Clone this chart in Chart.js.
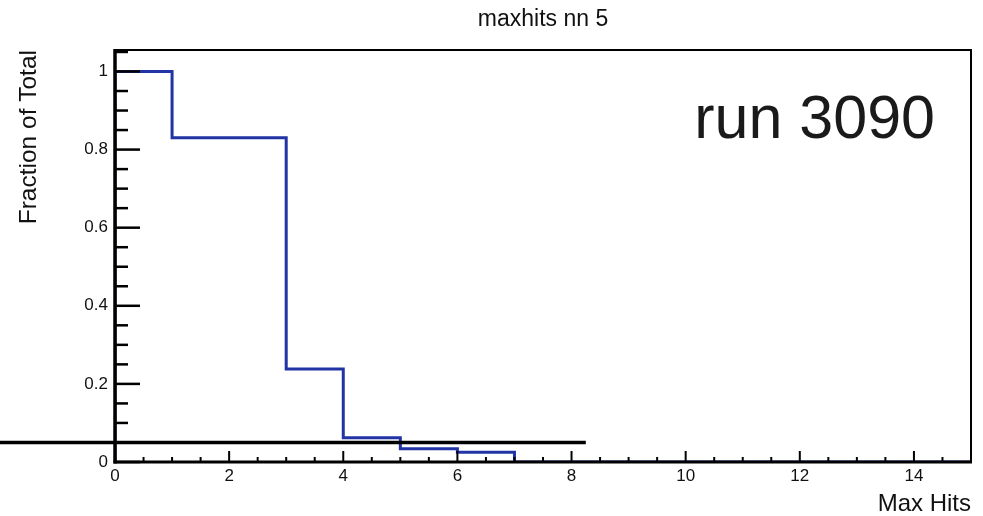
<!DOCTYPE html>
<html>
<head>
<meta charset="utf-8">
<title>maxhits nn 5</title>
<script src="https://cdn.jsdelivr.net/npm/chart.js@4/dist/chart.umd.min.js"></script>
<style>
    html, body { margin: 0; padding: 0; background: #fff; }
    #wrap { width: 983px; height: 516px; position: relative; }
</style>
</head>
<body>
<div id="wrap"><canvas id="hist"></canvas></div>
<script>
// Histogram of max hits (run 3090), unit-width bins from 0 to 15
const binEdges = [0, 1, 2, 3, 4, 5, 6, 7, 8, 9, 10, 11, 12, 13, 14, 15];
const binValues = [1.0, 0.83, 0.83, 0.238, 0.062, 0.034, 0.025, 0, 0, 0, 0, 0, 0, 0, 0];

// Black reference line drawn across the lower part of the plot
const cutLevel = 0.05;
const cutRange = [-2.02, 8.25];

const runLabel = 'run 3090';
const FONT = "'Liberation Sans', Arial, Helvetica, sans-serif";

// stepped points: left edge of every bin, closed at the last edge
const histPoints = [{ x: binEdges[0], y: 0 }];
binValues.forEach((v, i) => histPoints.push({ x: binEdges[i], y: v }));
histPoints.push({ x: binEdges[binEdges.length - 1], y: binValues[binValues.length - 1] });

const cutPoints = cutRange.map(x => ({ x: x, y: cutLevel }));

// ROOT style frame with inward ticks
const rootFrame = {
    id: 'rootFrame',
    afterDatasetsDraw(chart) {
        const { ctx, chartArea: a, scales: { x, y } } = chart;
        ctx.save();
        ctx.strokeStyle = '#000';
        ctx.lineCap = 'butt';

        // y ticks every 0.05, major every 0.2
        ctx.lineWidth = 2.5;
        for (let k = 0; k * 0.05 <= y.max + 1e-9; k++) {
            const py = y.getPixelForValue(k * 0.05);
            const len = k % 4 === 0 ? 25 : 13;
            ctx.beginPath();
            ctx.moveTo(a.left, py);
            ctx.lineTo(a.left + len, py);
            ctx.stroke();
        }
        // x ticks every 0.5, major every 2
        ctx.lineWidth = 2;
        for (let k = 0; k * 0.5 <= x.max + 1e-9; k++) {
            const px = x.getPixelForValue(k * 0.5);
            const len = k % 4 === 0 ? 11 : 5;
            ctx.beginPath();
            ctx.moveTo(px, a.bottom);
            ctx.lineTo(px, a.bottom - len);
            ctx.stroke();
        }

        // thin top and right sides
        ctx.lineWidth = 2;
        ctx.beginPath();
        ctx.moveTo(a.left, a.top);
        ctx.lineTo(a.right, a.top);
        ctx.lineTo(a.right, a.bottom);
        ctx.stroke();
        // heavier axes
        ctx.lineWidth = 3.5;
        ctx.beginPath();
        ctx.moveTo(a.left, a.top - 1);
        ctx.lineTo(a.left, a.bottom + 1.5);
        ctx.stroke();
        ctx.lineWidth = 3;
        ctx.beginPath();
        ctx.moveTo(a.left - 1.5, a.bottom);
        ctx.lineTo(a.right + 1, a.bottom);
        ctx.stroke();

        // run label
        ctx.fillStyle = '#1a1a1a';
        ctx.font = '61px ' + FONT;
        ctx.textAlign = 'right';
        ctx.textBaseline = 'alphabetic';
        ctx.fillText(runLabel, a.right - 36, a.top + 88);
        ctx.restore();
    }
};

new Chart(document.getElementById('hist'), {
    type: 'line',
    data: {
        datasets: [{
            label: 'cut',
            data: cutPoints,
            borderColor: '#000',
            borderWidth: 3.5,
            pointRadius: 0,
            clip: false
        }, {
            label: 'maxhits',
            data: histPoints,
            stepped: 'before',
            borderColor: '#2233a5',
            borderWidth: 3,
            borderJoinStyle: 'miter',
            pointRadius: 0,
            fill: false
        }]
    },
    options: {
        responsive: true,
        maintainAspectRatio: false,
        animation: false,
        layout: { padding: { left: 0, right: 12, top: 0, bottom: 0 } },
        plugins: {
            legend: { display: false },
            tooltip: { enabled: false },
            title: {
                display: true,
                text: 'maxhits nn 5',
                fullSize: false,
                color: '#111',
                font: { family: FONT, size: 23, weight: 'normal', lineHeight: 1 },
                padding: { top: 8, bottom: 19 }
            }
        },
        scales: {
            x: {
                type: 'linear',
                min: 0,
                max: 15,
                afterFit(scale) { scale.height = 54; },
                grid: { display: false, drawTicks: false },
                border: { display: false },
                ticks: {
                    stepSize: 2,
                    includeBounds: false,
                    autoSkip: false,
                    maxRotation: 0,
                    padding: 4,
                    color: '#111',
                    font: { family: FONT, size: 17 }
                },
                title: {
                    display: true,
                    text: 'Max Hits',
                    align: 'end',
                    color: '#111',
                    font: { family: FONT, size: 24, lineHeight: 1 },
                    padding: { top: 0, bottom: 0 }
                }
            },
            y: {
                type: 'linear',
                min: 0,
                max: 1.055,
                afterFit(scale) { scale.width = 115; },
                grid: { display: false, drawTicks: false },
                border: { display: false },
                ticks: {
                    stepSize: 0.2,
                    includeBounds: false,
                    padding: 7,
                    color: '#111',
                    font: { family: FONT, size: 17 },
                    callback: function(value) {
                        return String(+value.toFixed(2));
                    }
                },
                title: {
                    display: true,
                    text: 'Fraction of Total',
                    align: 'end',
                    color: '#111',
                    font: { family: FONT, size: 24.5, lineHeight: 1 },
                    padding: { top: 17, bottom: 0 }
                }
            }
        }
    },
    plugins: [rootFrame]
});
</script>
</body>
</html>
